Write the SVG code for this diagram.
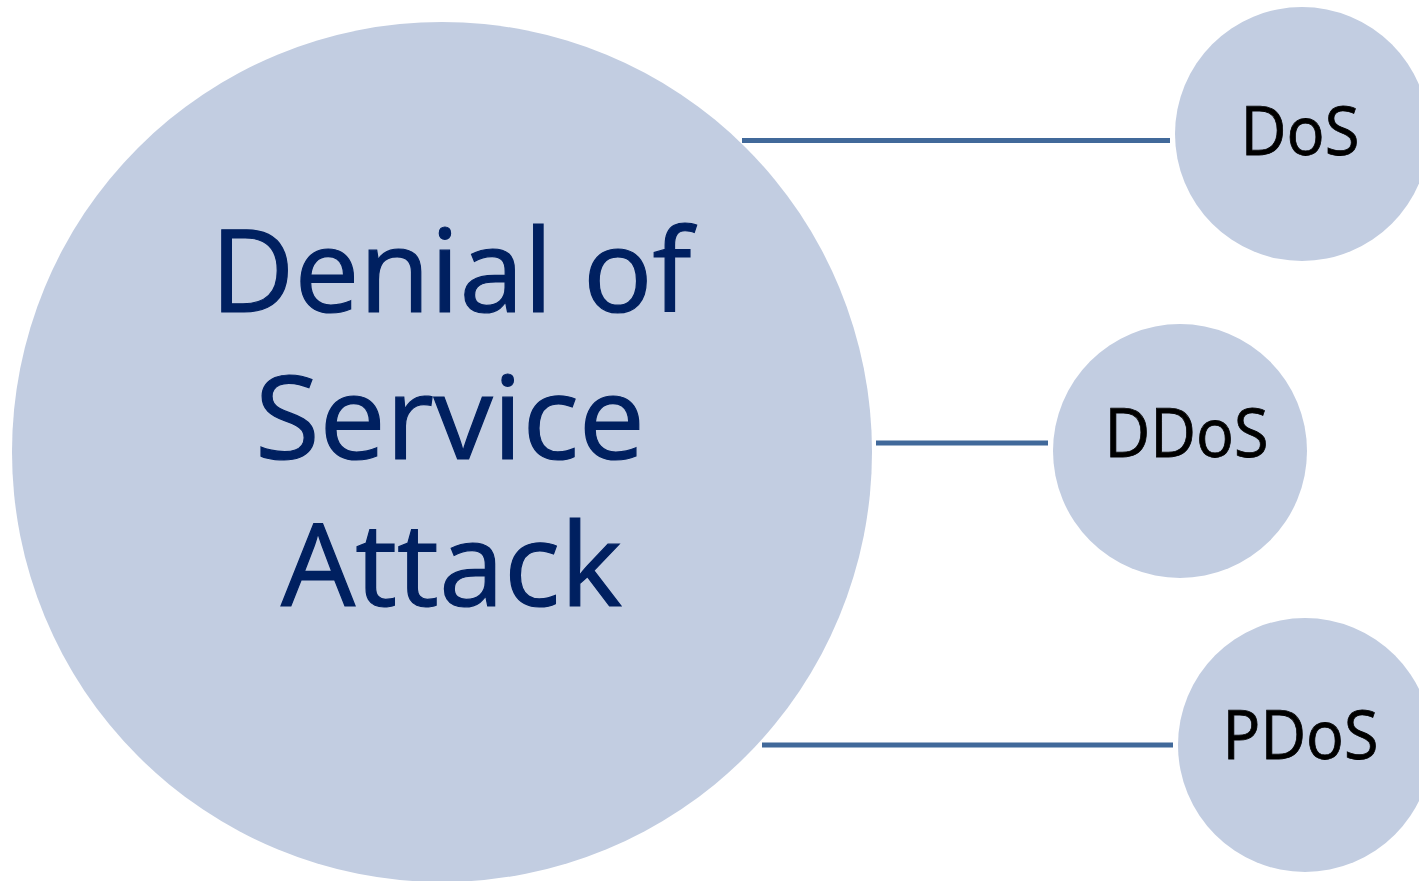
<svg xmlns="http://www.w3.org/2000/svg" width="1419" height="881" viewBox="0 0 1419 881">
<style>
.node{fill:#C2CDE1;}
.conn{stroke:#41699A;stroke-width:5;fill:none;}
.big{font-family:"Open Sans","Noto Sans",sans-serif;font-size:115px;fill:#002060;stroke:#002060;stroke-width:1.2;text-anchor:middle;}
.small{font-family:"Open Sans","Noto Sans",sans-serif;font-size:67px;fill:#000000;stroke:#000000;stroke-width:0.8;text-anchor:middle;}
</style>
<rect width="1419" height="881" fill="#FFFFFF"/>
<g id="main">
<circle class="node" cx="442" cy="452" r="430"/>
<text class="big" x="451" y="312" textLength="481" lengthAdjust="spacingAndGlyphs">Denial of</text>
<text class="big" x="450" y="459" textLength="390" lengthAdjust="spacingAndGlyphs">Service</text>
<text class="big" x="451.5" y="606" textLength="341" lengthAdjust="spacingAndGlyphs">Attack</text>
</g>
<g id="dos">
<circle class="node" cx="1302" cy="134" r="127"/>
<text class="small" x="1300" y="155" textLength="119" lengthAdjust="spacingAndGlyphs">DoS</text>
</g>
<g id="ddos">
<circle class="node" cx="1180" cy="451" r="127"/>
<text class="small" x="1186.5" y="457" textLength="164" lengthAdjust="spacingAndGlyphs">DDoS</text>
</g>
<g id="pdos">
<circle class="node" cx="1305" cy="745" r="127"/>
<text class="small" x="1300.5" y="759" textLength="156" lengthAdjust="spacingAndGlyphs">PDoS</text>
</g>
<g id="connectors">
<line class="conn" x1="742" y1="140.5" x2="1170" y2="140.5"/>
<line class="conn" x1="876" y1="443" x2="1048" y2="443"/>
<line class="conn" x1="762" y1="745" x2="1173" y2="745"/>
</g>
</svg>
